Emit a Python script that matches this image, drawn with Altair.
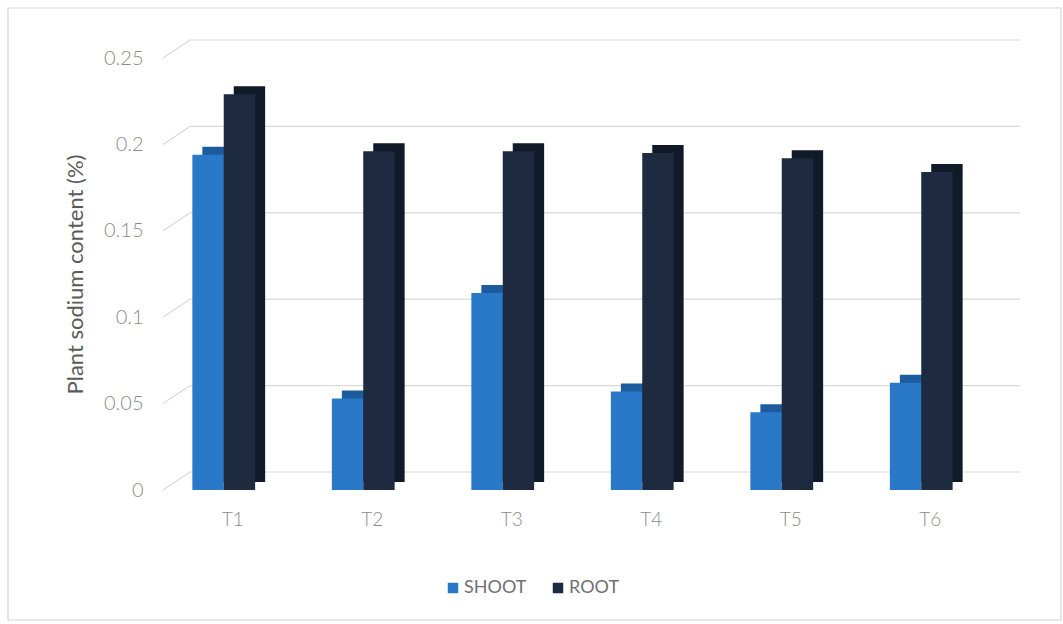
import altair as alt
import pandas as pd

categories = ["T1", "T2", "T3", "T4", "T5", "T6"]
shoot = [0.194, 0.053, 0.114, 0.057, 0.045, 0.062]
root = [0.229, 0.196, 0.196, 0.195, 0.192, 0.184]
series = ["SHOOT", "ROOT"]
ticks = [0, 0.05, 0.1, 0.15, 0.2, 0.25]

rows = []
for c, s, r in zip(categories, shoot, root):
    rows.append({"cat": c, "series": "SHOOT", "value": s})
    rows.append({"cat": c, "series": "ROOT", "value": r})
df = pd.DataFrame(rows)
grid_df = pd.DataFrame({"tick": ticks})
frame_df = pd.DataFrame({"k": [0]})

W, H = 837, 432
FONT = "Lato"
DX, DY = 27, -18
STEP = W / 6
BAND = STEP * 0.45
SHIFT = -9
DEPTH_X, DEPTH_Y = 10, -8

yscale = alt.Scale(domain=[0, 0.25], nice=False)
xscale = alt.Scale(domain=categories, paddingInner=0.55, paddingOuter=0.275)

frame = alt.Chart(frame_df).mark_rect(fill=None, stroke="#d6d6d6", strokeWidth=1.2).encode(
    x=alt.value(-155), x2=alt.value(898), y=alt.value(-50), y2=alt.value(562)
)

grid = alt.Chart(grid_df).mark_rule(color="#d9d9d9", strokeWidth=1.2, yOffset=DY, y2Offset=DY).encode(
    y=alt.Y("tick:Q", scale=yscale,
            axis=alt.Axis(values=ticks, format="~g", grid=False, domain=False, ticks=False,
                          labelPadding=20, labelFontSize=20, labelColor="#8c8c8c", labelFont=FONT,
                          labelFontWeight=300,
                          title="Plant sodium content (%)", titleFontSize=22, titleColor="#5a5a5a",
                          titleFont=FONT, titleFontWeight="normal", titlePadding=16)),
    x=alt.value(DX), x2=alt.value(W + 20),
)

diag = alt.Chart(grid_df).mark_rule(color="#d9d9d9", strokeWidth=1.2, y2Offset=DY).encode(
    y=alt.Y("tick:Q", scale=yscale), y2="tick:Q",
    x=alt.value(0), x2=alt.value(DX),
)

xenc = alt.X("cat:N", scale=xscale, sort=categories,
             axis=alt.Axis(title=None, domain=False, ticks=False, labelAngle=0, labelPadding=20,
                           labelFontSize=19, labelColor="#8c8c8c", labelFont=FONT, labelFontWeight=300))

depth = alt.Chart(df).transform_calculate(
    dc="datum.series == 'SHOOT' ? '#1c5c9e' : '#111a29'"
).mark_bar(yOffset=DEPTH_Y).encode(
    x=xenc,
    xOffset=alt.XOffset("series:N", sort=series,
                        scale=alt.Scale(paddingInner=0, range=[SHIFT + DEPTH_X, SHIFT + DEPTH_X + BAND])),
    y=alt.Y("value:Q", scale=yscale),
    color=alt.Color("dc:N", scale=None, legend=None),
)

front = alt.Chart(df).mark_bar().encode(
    x=xenc,
    xOffset=alt.XOffset("series:N", sort=series,
                        scale=alt.Scale(paddingInner=0, range=[SHIFT, SHIFT + BAND])),
    y=alt.Y("value:Q", scale=yscale),
    color=alt.Color("series:N", sort=series,
                    scale=alt.Scale(domain=series, range=["#2a78c8", "#1d2a40"]),
                    legend=alt.Legend(title=None, orient="none", legendX=281, legendY=521,
                                      direction="horizontal", symbolType="square", symbolSize=110,
                                      symbolStrokeWidth=0, labelFontSize=18, labelColor="#707070",
                                      labelFont=FONT, columnPadding=22, labelOffset=2)),
)

chart = alt.layer(frame, grid, diag, depth, front).resolve_scale(
    color="independent", xOffset="independent"
).properties(
    width=W, height=H,
    background="white",
    autosize=alt.AutoSizeParams(type="none"),
    padding={"left": 163, "top": 58, "right": 1063 - 163 - W, "bottom": 624 - 58 - H},
).configure_view(stroke=None)

chart.save("out.html", embed_options={"renderer": "svg", "actions": False})
